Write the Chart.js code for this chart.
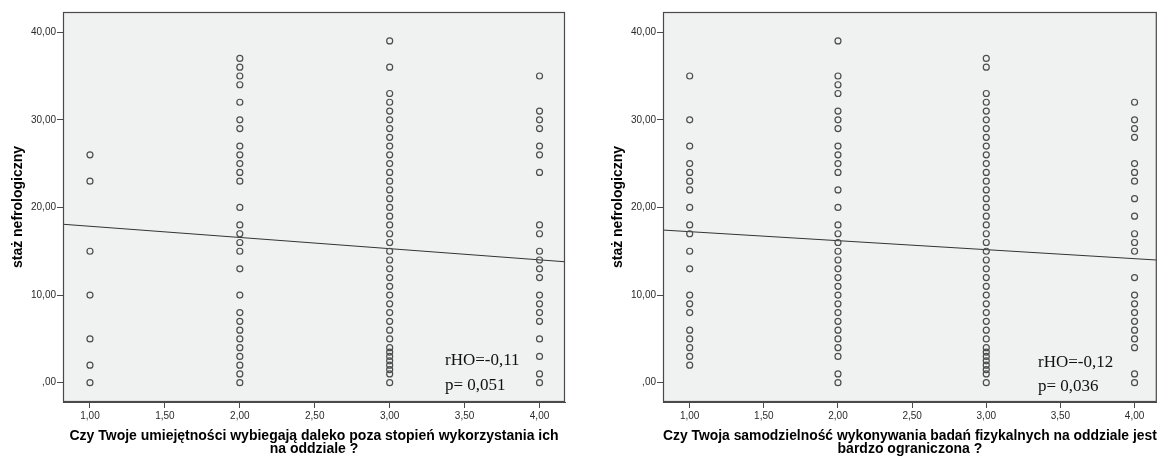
<!DOCTYPE html>
<html>
<head>
<meta charset="utf-8">
<script src="https://cdn.jsdelivr.net/npm/chart.js@4"></script>
<style>
  html, body { margin:0; padding:0; background:#fff; }
  body { width:1161px; height:456px; position:relative; overflow:hidden; }
  .wrap { position:absolute; top:0; height:456px; }
  .note { position:absolute; font-family:"Liberation Serif","Times New Roman",serif; font-size:17px; color:#111; white-space:nowrap; line-height:20px; }
</style>
</head>
<body>
<div class="wrap" style="left:0;width:580px;"><canvas id="c1"></canvas></div>
<div class="wrap" style="left:600px;width:561px;"><canvas id="c2"></canvas></div>
<div class="note" style="left:445px;top:350px;">rHO=-0,11</div>
<div class="note" style="left:445px;top:375px;">p= 0,051</div>
<div class="note" style="left:1038px;top:352px;">rHO=-0,12</div>
<div class="note" style="left:1038px;top:376px;">p= 0,036</div>
<script>
// ---- data ----
const xCategories = [1, 2, 3, 4];
const xTicks = [1, 1.5, 2, 2.5, 3, 3.5, 4];
const yTicks = [0, 10, 20, 30, 40];
const yTitle = "staż nefrologiczny";

const leftTitle = ["Czy Twoje umiejętności wybiegają daleko poza stopień wykorzystania ich", "na oddziale ?"];
const left1 = [26, 23, 15, 10, 5, 2, 0];
const left2 = [37, 36, 35, 34, 32, 30, 29, 27, 26, 25, 24, 23, 20, 18, 17, 16, 15, 13, 10, 8, 7, 6, 5, 4, 3, 2, 1, 0];
const left3 = [39, 36, 33, 32, 31, 30, 29, 28, 27, 26, 25, 24, 23, 22, 21, 20, 19, 18, 17, 16, 15, 14, 13, 12, 11, 10, 9, 8, 7, 6, 5, 4, 3.5, 3, 2.5, 2, 1.5, 1, 0];
const left4 = [35, 31, 30, 29, 27, 26, 24, 18, 17, 15, 14, 13, 12, 10, 9, 8, 7, 5, 3, 1, 0];
const leftFitX = [0.82, 4.17];
const leftFitY = [18.08, 13.8];

const rightTitle = ["Czy Twoja samodzielność wykonywania badań fizykalnych na oddziale jest", "bardzo ograniczona ?"];
const right1 = [35, 30, 27, 25, 24, 23, 22, 20, 18, 17, 15, 13, 10, 9, 8, 6, 5, 4, 3, 2];
const right2 = [39, 35, 34, 33, 31, 30, 29, 27, 26, 25, 24, 22, 20, 18, 17, 16, 15, 14, 13, 12, 11, 10, 9, 8, 7, 6, 5, 4, 3, 1, 0];
const right3 = [37, 36, 33, 32, 31, 30, 29, 28, 27, 26, 25, 24, 23, 22, 21, 20, 19, 18, 17, 16, 15, 14, 13, 12, 11, 10, 9, 8, 7, 6, 5, 4, 3.5, 3, 2.5, 2, 1.5, 1, 0];
const right4 = [32, 30, 29, 28, 25, 24, 23, 21, 19, 17, 16, 15, 12, 10, 9, 8, 7, 6, 5, 4, 1, 0];
const rightFitX = [0.82, 4.15];
const rightFitY = [17.42, 14.0];

// ---- helpers ----
function pts(groups) {
  const out = [];
  groups.forEach((vals, i) => vals.forEach(v => out.push({x: xCategories[i], y: v})));
  return out;
}
function fmt(v) {
  const s = v.toFixed(2).replace('.', ',');
  return s.startsWith('0,') ? s.slice(1) : s;
}
const frame = {
  id: 'frame',
  beforeDraw(chart) {
    const {ctx, chartArea: a} = chart;
    ctx.save();
    ctx.fillStyle = '#f0f1f1';
    ctx.fillRect(a.left, a.top, a.right - a.left, a.bottom - a.top);
    ctx.restore();
  },
  afterDraw(chart) {
    const {ctx, chartArea: a} = chart;
    ctx.save();
    ctx.strokeStyle = '#4a4a4a';
    ctx.lineWidth = 1.2;
    ctx.strokeRect(a.left + 0.5, a.top + 0.5, a.right - a.left - 1, a.bottom - a.top - 1);
    ctx.restore();
  }
};

function makeChart(id, groups, fitX, fitY, xTitle, xMax, padRight) {
  new Chart(document.getElementById(id), {
    type: 'scatter',
    data: {
      datasets: [
        {
          data: pts(groups),
          pointStyle: 'circle',
          pointRadius: 3,
          pointHoverRadius: 3,
          pointBorderWidth: 1.2,
          pointBorderColor: '#4d4d4d',
          pointBackgroundColor: 'rgba(0,0,0,0)',
          showLine: false
        },
        {
          type: 'line',
          data: [{x: fitX[0], y: fitY[0]}, {x: fitX[1], y: fitY[1]}],
          borderColor: '#333',
          borderWidth: 1,
          pointRadius: 0,
          fill: false
        }
      ]
    },
    options: {
      responsive: true,
      maintainAspectRatio: false,
      animation: false,
      layout: { padding: { left: 0, right: padRight, top: 12, bottom: 0 } },
      plugins: { legend: { display: false }, tooltip: { enabled: false } },
      scales: {
        x: {
          type: 'linear',
          min: 0.82, max: xMax,
          afterBuildTicks: s => { s.ticks = xTicks.map(v => ({value: v})); },
          afterFit: s => { s.height = 54; },
          ticks: { callback: v => fmt(v), color: '#2a2a2a', font: { family: 'Liberation Sans', size: 10 }, padding: 2, maxRotation: 0, autoSkip: false },
          grid: { drawOnChartArea: false, drawTicks: true, tickLength: 6, tickColor: '#4a4a4a', tickWidth: 1 },
          border: { display: true, color: '#4a4a4a' },
          title: { display: true, text: xTitle, color: '#000', font: { family: 'Liberation Sans', size: 14, weight: 'bold', lineHeight: 0.93 }, padding: { top: 0, bottom: 0 } }
        },
        y: {
          type: 'linear',
          min: -2.2, max: 42.3,
          afterBuildTicks: s => { s.ticks = yTicks.map(v => ({value: v})); },
          afterFit: s => { s.width = 63; },
          ticks: { callback: v => fmt(v), color: '#2a2a2a', font: { family: 'Liberation Sans', size: 10 }, padding: 1 },
          grid: { drawOnChartArea: false, drawTicks: true, tickLength: 6, tickColor: '#4a4a4a', tickWidth: 1 },
          border: { display: true, color: '#4a4a4a' },
          title: { display: true, text: yTitle, color: '#000', font: { family: 'Liberation Sans', size: 14, weight: 'bold', lineHeight: 1.2 }, padding: { top: 9.6, bottom: 0 } }
        }
      }
    },
    plugins: [frame]
  });
}

makeChart('c1', [left1, left2, left3, left4], leftFitX, leftFitY, leftTitle, 4.17, 15);
makeChart('c2', [right1, right2, right3, right4], rightFitX, rightFitY, rightTitle, 4.15, 1);
</script>
</body>
</html>
